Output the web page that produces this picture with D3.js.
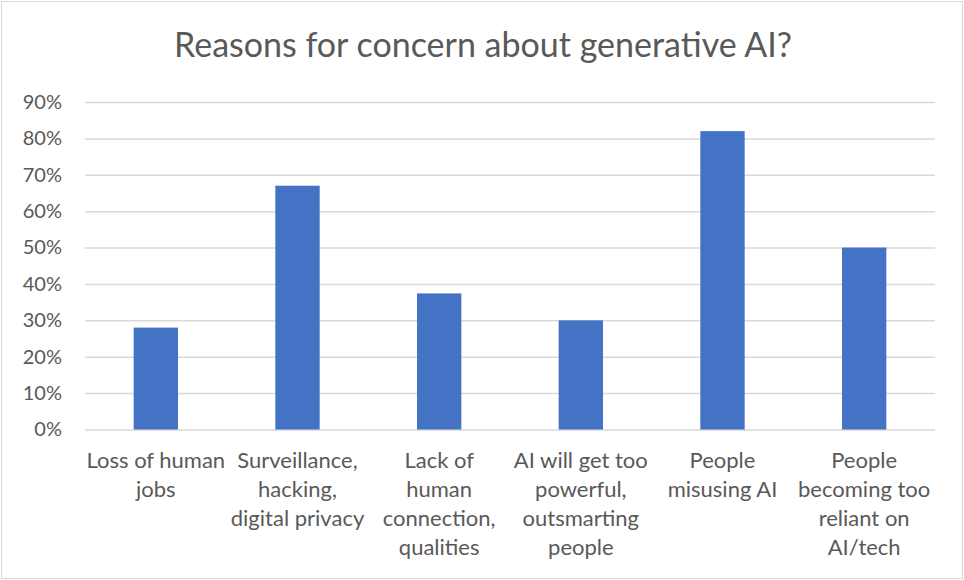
<!DOCTYPE html>
<html>
<head>
<meta charset="utf-8">
<script src="https://cdn.jsdelivr.net/npm/d3@7"></script>
<style>
  html, body { margin: 0; padding: 0; background: #fff; }
  svg { display: block; font-family: Lato, "Open Sans", sans-serif; }
</style>
</head>
<body>
<svg id="chart" width="964" height="580"></svg>
<script>
const title = "Reasons for concern about generative AI?";
const categories = [
  ["Loss of human", "jobs"],
  ["Surveillance,", "hacking,", "digital privacy"],
  ["Lack of", "human", "connection,", "qualities"],
  ["AI will get too", "powerful,", "outsmarting", "people"],
  ["People", "misusing AI"],
  ["People", "becoming too", "reliant on", "AI/tech"]
];
const values = [0.28, 0.67, 0.374, 0.30, 0.82, 0.50];
const yTicks = [0, 0.1, 0.2, 0.3, 0.4, 0.5, 0.6, 0.7, 0.8, 0.9];

const svg = d3.select("#chart");
const W = 964, H = 580;
const margin = { left: 85, right: 29, top: 102, bottom: 150.5 };

svg.append("rect")
  .attr("x", 1.5).attr("y", 1.5)
  .attr("width", W - 3).attr("height", H - 3)
  .attr("fill", "#fff").attr("stroke", "#d9d9d9").attr("stroke-width", 1);

svg.append("text")
  .attr("x", 483).attr("y", 57)
  .attr("text-anchor", "middle")
  .attr("font-size", 34)
  .attr("fill", "#595959")
  .text(title);

const x = d3.scaleBand()
  .domain(d3.range(categories.length))
  .range([margin.left, W - margin.right])
  .paddingInner(0.687).paddingOuter(0.3435);

const y = d3.scaleLinear()
  .domain([0, 0.9])
  .range([H - margin.bottom, margin.top]);

// gridlines
const yAxis = d3.axisLeft(y)
  .tickValues(yTicks)
  .tickFormat(d3.format(".0%"))
  .tickSize(-(W - margin.left - margin.right))
  .tickPadding(23);

const gy = svg.append("g")
  .attr("transform", `translate(${margin.left},0)`)
  .call(yAxis);
gy.select(".domain").remove();
gy.selectAll(".tick line").attr("stroke", "#d9d9d9").attr("stroke-width", 1.5);
gy.selectAll(".tick text")
  .attr("fill", "#595959")
  .attr("font-size", 20)
  .attr("font-family", "Lato, sans-serif");

// bars
svg.append("g").selectAll("rect")
  .data(values)
  .join("rect")
  .attr("x", (d, i) => x(i))
  .attr("width", x.bandwidth())
  .attr("y", d => y(d))
  .attr("height", d => y(0) - y(d))
  .attr("fill", "#4472c4");

// x labels
const xl = svg.append("g");
categories.forEach((lines, i) => {
  const t = xl.append("text")
    .attr("text-anchor", "middle")
    .attr("fill", "#595959")
    .attr("font-size", 22);
  lines.forEach((ln, j) => {
    t.append("tspan")
      .attr("x", x(i) + x.bandwidth() / 2)
      .attr("y", y(0) + 38 + j * 29.3)
      .text(ln);
  });
});
</script>
</body>
</html>
